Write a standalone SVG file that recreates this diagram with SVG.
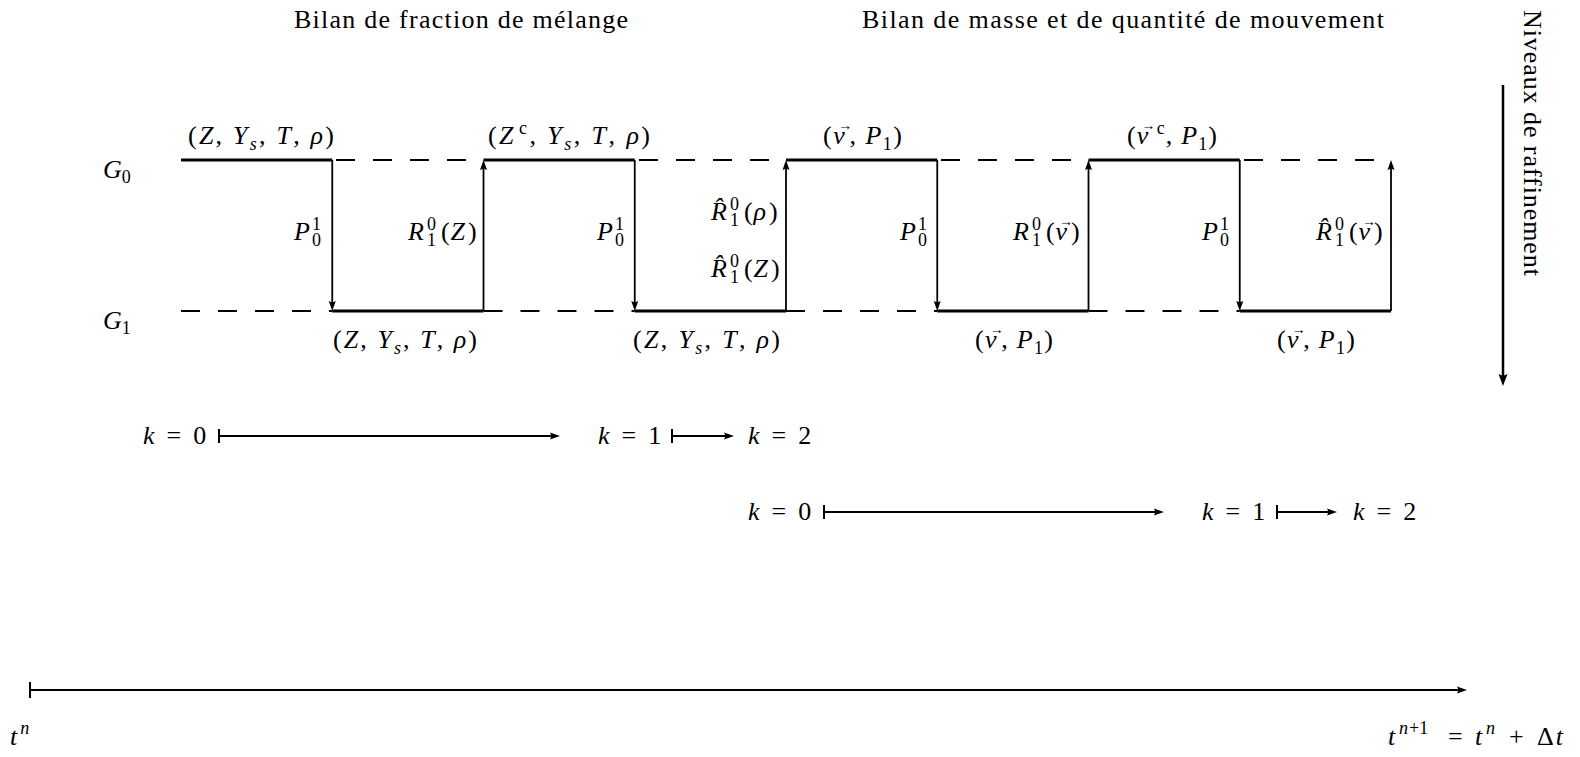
<svg xmlns="http://www.w3.org/2000/svg" width="1580" height="757" viewBox="0 0 1580 757">
<style>
.m{font-family:"Liberation Serif","DejaVu Serif",serif;font-size:26px;fill:#000}
.i{font-style:italic}
.s{font-size:18px}
.vec{font-size:14px;font-style:normal}
.solid{stroke:#000;stroke-width:3;fill:none}
.dash{stroke:#000;stroke-width:2;stroke-dasharray:19 18;fill:none}
.arr{stroke:#000;stroke-width:1.8;fill:none;marker-end:url(#ah)}
.bar{stroke:#000;stroke-width:2;fill:none}
</style>
<defs>
<marker id="ah" markerUnits="userSpaceOnUse" markerWidth="12" markerHeight="10" refX="4" refY="4" orient="auto" overflow="visible"><path d="M0,0.5 L10,4 L0,7.5 L1.5,4 z" fill="#000"/></marker>
<marker id="ahL" markerUnits="userSpaceOnUse" markerWidth="14" markerHeight="12" refX="4" refY="5" orient="auto" overflow="visible"><path d="M0,0.5 L12,5 L0,9.5 L2,5 z" fill="#000"/></marker>
</defs>
<rect width="1580" height="757" fill="#fff"/>

<g id="titles">
<text class="m" x="294" y="28" textLength="334">Bilan de fraction de mélange</text>
<text class="m" x="862" y="28" textLength="522">Bilan de masse et de quantité de mouvement</text>
</g>

<g id="levels">
<text class="m" x="103" y="178"><tspan class="i">G</tspan><tspan class="s" dy="5">0</tspan></text>
<text class="m" x="103" y="329"><tspan class="i">G</tspan><tspan class="s" dy="5">1</tspan></text>
</g>

<g id="connectors">
<line class="solid" x1="181" y1="160" x2="332.25" y2="160"/>
<line class="dash" x1="336" y1="160" x2="483.5" y2="160"/>
<line class="solid" x1="483.5" y1="160" x2="634.75" y2="160"/>
<line class="dash" x1="639" y1="160" x2="786" y2="160"/>
<line class="solid" x1="786" y1="160" x2="937.25" y2="160"/>
<line class="dash" x1="941" y1="160" x2="1088.5" y2="160"/>
<line class="solid" x1="1088.5" y1="160" x2="1239.75" y2="160"/>
<line class="dash" x1="1244" y1="160" x2="1391" y2="160"/>

<line class="dash" x1="181" y1="311" x2="332.25" y2="311"/>
<line class="solid" x1="332.25" y1="311" x2="483.5" y2="311"/>
<line class="dash" x1="483.5" y1="311" x2="634.75" y2="311"/>
<line class="solid" x1="634.75" y1="311" x2="786" y2="311"/>
<line class="dash" x1="786" y1="311" x2="937.25" y2="311"/>
<line class="solid" x1="937.25" y1="311" x2="1088.5" y2="311"/>
<line class="dash" x1="1088.5" y1="311" x2="1239.75" y2="311"/>
<line class="solid" x1="1239.75" y1="311" x2="1391" y2="311"/>

<line class="arr" x1="332.25" y1="160" x2="332.25" y2="305"/>
<line class="arr" x1="634.75" y1="160" x2="634.75" y2="305"/>
<line class="arr" x1="937.25" y1="160" x2="937.25" y2="305"/>
<line class="arr" x1="1239.75" y1="160" x2="1239.75" y2="305"/>
<line class="arr" x1="483.5" y1="311" x2="483.5" y2="166"/>
<line class="arr" x1="786" y1="311" x2="786" y2="166"/>
<line class="arr" x1="1088.5" y1="311" x2="1088.5" y2="166"/>
<line class="arr" x1="1391" y1="311" x2="1391" y2="166"/>

<line class="bar" x1="219" y1="429" x2="219" y2="443"/>
<line class="arr" x1="219" y1="436" x2="554" y2="436"/>
<line class="bar" x1="672" y1="429" x2="672" y2="443"/>
<line class="arr" x1="672" y1="436" x2="728" y2="436"/>
<line class="bar" x1="824" y1="505" x2="824" y2="519"/>
<line class="arr" x1="824" y1="512" x2="1158" y2="512"/>
<line class="bar" x1="1277" y1="505" x2="1277" y2="519"/>
<line class="arr" x1="1277" y1="512" x2="1331" y2="512"/>

<line class="bar" x1="30" y1="682" x2="30" y2="698"/>
<line class="arr" x1="30" y1="690" x2="1461" y2="690"/>

<line x1="1503" y1="85" x2="1503" y2="378" stroke="#000" stroke-width="2.5" marker-end="url(#ahL)"/>
</g>

<g id="top-labels">
<text class="m" x="188" y="144" textLength="146">(<tspan class="i">Z</tspan>, <tspan class="i">Y</tspan><tspan class="s i" dy="6">s</tspan><tspan dy="-6">, </tspan><tspan class="i">T</tspan>, <tspan class="i">ρ</tspan>)</text>
<text class="m" x="488" y="144" textLength="162">(<tspan class="i">Z</tspan><tspan class="s" dx="3" dy="-10">c</tspan><tspan dy="10">, </tspan><tspan class="i">Y</tspan><tspan class="s i" dy="6">s</tspan><tspan dy="-6">, </tspan><tspan class="i">T</tspan>, <tspan class="i">ρ</tspan>)</text>
<text class="m" x="823" y="144" textLength="79">(<tspan class="i">v</tspan><tspan class="vec" dx="-8" dy="-14">→</tspan><tspan dx="-4" dy="14">, </tspan><tspan class="i">P</tspan><tspan class="s" dy="6">1</tspan><tspan dy="-6">)</tspan></text>
<text class="m" x="1127" y="144" textLength="90">(<tspan class="i">v</tspan><tspan class="vec" dx="-8" dy="-14">→</tspan><tspan class="s" dx="0" dy="4">c</tspan><tspan dx="0" dy="10">, </tspan><tspan class="i">P</tspan><tspan class="s" dy="6">1</tspan><tspan dy="-6">)</tspan></text>
</g>

<g id="bottom-labels">
<text class="m" x="333" y="348" textLength="144">(<tspan class="i">Z</tspan>, <tspan class="i">Y</tspan><tspan class="s i" dy="6">s</tspan><tspan dy="-6">, </tspan><tspan class="i">T</tspan>, <tspan class="i">ρ</tspan>)</text>
<text class="m" x="633" y="348" textLength="147">(<tspan class="i">Z</tspan>, <tspan class="i">Y</tspan><tspan class="s i" dy="6">s</tspan><tspan dy="-6">, </tspan><tspan class="i">T</tspan>, <tspan class="i">ρ</tspan>)</text>
<text class="m" x="975" y="348" textLength="78">(<tspan class="i">v</tspan><tspan class="vec" dx="-8" dy="-14">→</tspan><tspan dx="-4" dy="14">, </tspan><tspan class="i">P</tspan><tspan class="s" dy="6">1</tspan><tspan dy="-6">)</tspan></text>
<text class="m" x="1277" y="348" textLength="78">(<tspan class="i">v</tspan><tspan class="vec" dx="-8" dy="-14">→</tspan><tspan dx="-4" dy="14">, </tspan><tspan class="i">P</tspan><tspan class="s" dy="6">1</tspan><tspan dy="-6">)</tspan></text>
</g>

<g id="operator-labels">
<text class="m" x="294" y="240"><tspan class="i">P</tspan><tspan class="s" dx="2" dy="-10">1</tspan><tspan class="s" dx="-9" dy="16">0</tspan></text>
<text class="m" x="597" y="240"><tspan class="i">P</tspan><tspan class="s" dx="2" dy="-10">1</tspan><tspan class="s" dx="-9" dy="16">0</tspan></text>
<text class="m" x="900" y="240"><tspan class="i">P</tspan><tspan class="s" dx="2" dy="-10">1</tspan><tspan class="s" dx="-9" dy="16">0</tspan></text>
<text class="m" x="1202" y="240"><tspan class="i">P</tspan><tspan class="s" dx="2" dy="-10">1</tspan><tspan class="s" dx="-9" dy="16">0</tspan></text>
<text class="m" x="408" y="240"><tspan class="i">R</tspan><tspan class="s" dx="3" dy="-10">0</tspan><tspan class="s" dx="-9" dy="16">1</tspan><tspan dx="5" dy="-6">(</tspan><tspan class="i" dx="1">Z</tspan><tspan dx="3">)</tspan></text>
<text class="m" x="711" y="220"><tspan class="i">R̂</tspan><tspan class="s" dx="3" dy="-10">0</tspan><tspan class="s" dx="-9" dy="16">1</tspan><tspan dx="5" dy="-6">(</tspan><tspan class="i" dx="1">ρ</tspan><tspan dx="3">)</tspan></text>
<text class="m" x="711" y="277"><tspan class="i">R̂</tspan><tspan class="s" dx="3" dy="-10">0</tspan><tspan class="s" dx="-9" dy="16">1</tspan><tspan dx="5" dy="-6">(</tspan><tspan class="i" dx="1">Z</tspan><tspan dx="3">)</tspan></text>
<text class="m" x="1013" y="240"><tspan class="i">R</tspan><tspan class="s" dx="3" dy="-10">0</tspan><tspan class="s" dx="-9" dy="16">1</tspan><tspan dx="5" dy="-6">(</tspan><tspan class="i" dx="1">v</tspan><tspan class="vec" dx="-8" dy="-14">→</tspan><tspan dx="-2" dy="14">)</tspan></text>
<text class="m" x="1316" y="240"><tspan class="i">R̂</tspan><tspan class="s" dx="3" dy="-10">0</tspan><tspan class="s" dx="-9" dy="16">1</tspan><tspan dx="5" dy="-6">(</tspan><tspan class="i" dx="1">v</tspan><tspan class="vec" dx="-8" dy="-14">→</tspan><tspan dx="-2" dy="14">)</tspan></text>
</g>

<g id="iterations">
<text class="m" x="143" y="444"><tspan class="i">k</tspan><tspan dx="12">=</tspan><tspan dx="12">0</tspan></text>
<text class="m" x="598" y="444"><tspan class="i">k</tspan><tspan dx="12">=</tspan><tspan dx="12">1</tspan></text>
<text class="m" x="748" y="444"><tspan class="i">k</tspan><tspan dx="12">=</tspan><tspan dx="12">2</tspan></text>
<text class="m" x="748" y="520"><tspan class="i">k</tspan><tspan dx="12">=</tspan><tspan dx="12">0</tspan></text>
<text class="m" x="1202" y="520"><tspan class="i">k</tspan><tspan dx="12">=</tspan><tspan dx="12">1</tspan></text>
<text class="m" x="1353" y="520"><tspan class="i">k</tspan><tspan dx="12">=</tspan><tspan dx="12">2</tspan></text>
</g>

<g id="refinement-axis">
<text class="m" transform="translate(1524,10) rotate(90)" x="0" y="0" textLength="266">Niveaux de raffinement</text>
</g>

<g id="time-axis">
<text class="m" x="10" y="745"><tspan class="i">t</tspan><tspan class="s i" dx="3" dy="-11">n</tspan></text>
<text class="m" x="1388" y="745"><tspan class="i">t</tspan><tspan class="s i" x="1399" dy="-11">n</tspan><tspan class="s" dx="1">+1</tspan><tspan x="1448" dy="11">=</tspan><tspan class="i" x="1475">t</tspan><tspan class="s i" x="1486" dy="-11">n</tspan><tspan x="1509" dy="11">+</tspan><tspan x="1537">Δ</tspan><tspan class="i" dx="2">t</tspan></text>
</g>
</svg>
